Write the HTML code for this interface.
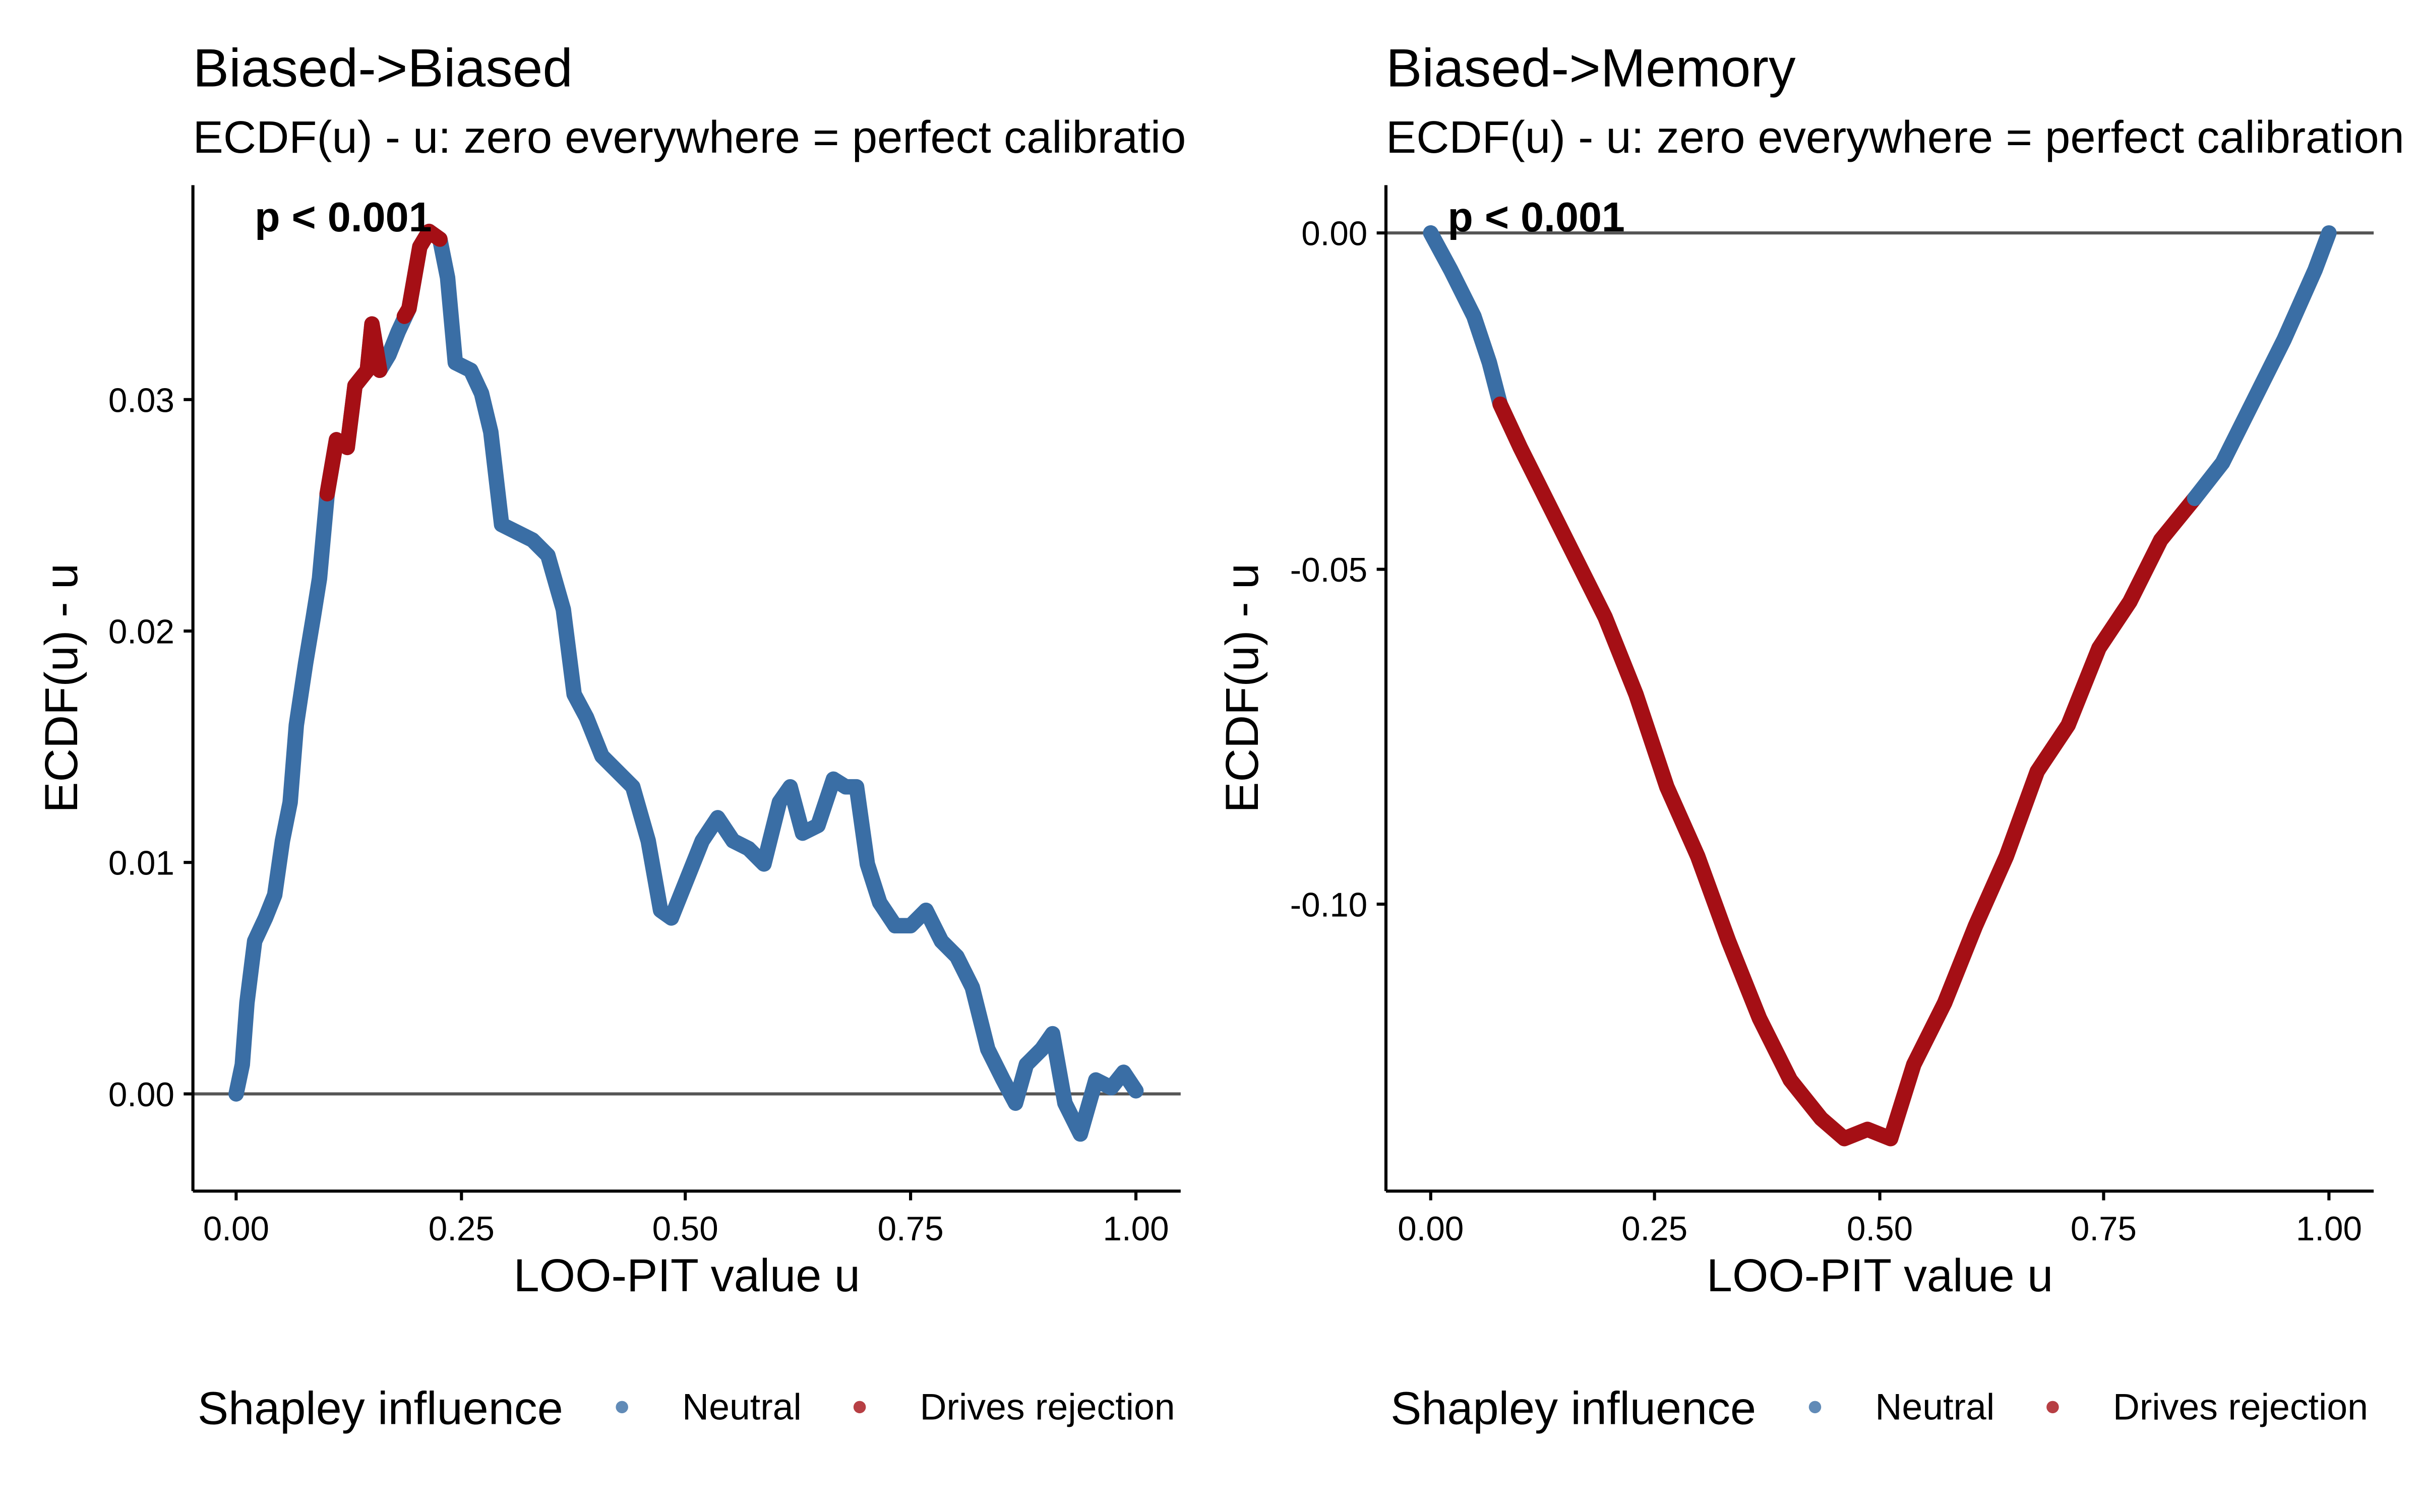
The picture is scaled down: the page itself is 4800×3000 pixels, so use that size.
<!DOCTYPE html>
<html><head><meta charset="utf-8"><style>
html,body{margin:0;padding:0;background:#fff;}
svg{display:block;}
text{font-family:"Liberation Sans",Arial,sans-serif;}
</style></head><body>
<svg width="4800" height="3000" viewBox="0 0 1568 980" xmlns="http://www.w3.org/2000/svg">
<rect width="1568" height="980" fill="#fff"/>
<!-- LEFT PANEL -->
<text x="125" y="56" font-size="35">Biased-&gt;Biased</text>
<text x="125" y="99" font-size="29.5">ECDF(u) - u: zero everywhere = perfect calibratio</text>
<line x1="125" y1="709" x2="765" y2="709" stroke="#555" stroke-width="2"/>
<g stroke-linejoin="round" stroke-linecap="round" fill="none" stroke-width="10">
<polyline stroke="#3a6ea5" points="153,709 157,690 160,650 165,610 172,595 178,580 183,545 188,520 192,470 198,430 203,400 207,375 212,320 218,285 225,290 230,250 238,240 241,210 246,240 252,230 258,215 265,200 272,160 278,150 285,155 290,180 295,235 305,240 312,255 318,280 325,340 335,345 345,350 355,360 365,395 372,450 380,465 390,490 400,500 410,510 420,545 428,590 435,595 445,570 455,545 465,530 475,545 485,550 495,560 505,520 512,510 520,540 530,535 540,505 548,510 555,510 562,560 570,585 580,600 590,600 600,590 610,610 620,620 630,640 640,680 650,700 658,715 665,690 675,680 682,670 690,715 700,735 710,700 720,705 728,695 736,707"/>
<polyline stroke="#a50f15" points="212,320 218,285 225,290 230,250 238,240 241,210 246,240"/>
<polyline stroke="#a50f15" points="262,205 265,200 272,160 278,150 285,155"/>
</g>
<line x1="125" y1="120" x2="125" y2="772" stroke="#000" stroke-width="2"/>
<line x1="125" y1="772" x2="765" y2="772" stroke="#000" stroke-width="2"/>
<g font-size="22" text-anchor="end">
<text x="113" y="717">0.00</text><text x="113" y="567">0.01</text><text x="113" y="417">0.02</text><text x="113" y="267">0.03</text>
</g>
<g stroke="#000" stroke-width="2"><line x1="119" y1="709" x2="125" y2="709"/><line x1="119" y1="559" x2="125" y2="559"/><line x1="119" y1="409" x2="125" y2="409"/><line x1="119" y1="259" x2="125" y2="259"/>
<line x1="153" y1="772" x2="153" y2="778"/><line x1="299" y1="772" x2="299" y2="778"/><line x1="444" y1="772" x2="444" y2="778"/><line x1="590" y1="772" x2="590" y2="778"/><line x1="736" y1="772" x2="736" y2="778"/></g>
<g font-size="22" text-anchor="middle">
<text x="153" y="804">0.00</text><text x="299" y="804">0.25</text><text x="444" y="804">0.50</text><text x="590" y="804">0.75</text><text x="736" y="804">1.00</text>
</g>
<text x="445" y="837" font-size="30" text-anchor="middle">LOO-PIT value u</text>
<text transform="translate(50,446) rotate(-90)" font-size="30" text-anchor="middle">ECDF(u) - u</text>
<text x="165" y="150" font-size="27" font-weight="bold">p &lt; 0.001</text>
<text x="128" y="923" font-size="30">Shapley influence</text>
<circle cx="403" cy="912" r="4" fill="#3a6ea5" opacity="0.8"/><text x="442" y="920" font-size="24">Neutral</text>
<circle cx="557" cy="912" r="4" fill="#a50f15" opacity="0.8"/><text x="596" y="920" font-size="24">Drives rejection</text>

<!-- RIGHT PANEL -->
<text x="898" y="56" font-size="35">Biased-&gt;Memory</text>
<text x="898" y="99" font-size="29.5">ECDF(u) - u: zero everywhere = perfect calibration</text>
<line x1="898" y1="151" x2="1538" y2="151" stroke="#555" stroke-width="2"/>
<g stroke-linejoin="round" stroke-linecap="round" fill="none" stroke-width="10">
<polyline stroke="#3a6ea5" points="927,151 940,175 955,205 965,235 972,262"/>
<polyline stroke="#a50f15" points="972,262 985,290 1000,320 1020,360 1040,400 1060,450 1080,510 1100,555 1120,610 1140,660 1160,700 1180,725 1195,738 1210,732 1225,738 1240,690 1260,650 1280,600 1300,555 1320,500 1340,470 1360,420 1380,390 1400,350 1422,323"/>
<polyline stroke="#3a6ea5" points="1422,323 1440,300 1460,260 1480,220 1500,175 1509,151"/>
</g>
<line x1="898" y1="120" x2="898" y2="772" stroke="#000" stroke-width="2"/>
<line x1="898" y1="772" x2="1538" y2="772" stroke="#000" stroke-width="2"/>
<g font-size="22" text-anchor="end">
<text x="886" y="159">0.00</text><text x="886" y="377">-0.05</text><text x="886" y="594">-0.10</text>
</g>
<g stroke="#000" stroke-width="2"><line x1="892" y1="151" x2="898" y2="151"/><line x1="892" y1="369" x2="898" y2="369"/><line x1="892" y1="586" x2="898" y2="586"/>
<line x1="927" y1="772" x2="927" y2="778"/><line x1="1072" y1="772" x2="1072" y2="778"/><line x1="1218" y1="772" x2="1218" y2="778"/><line x1="1363" y1="772" x2="1363" y2="778"/><line x1="1509" y1="772" x2="1509" y2="778"/></g>
<g font-size="22" text-anchor="middle">
<text x="927" y="804">0.00</text><text x="1072" y="804">0.25</text><text x="1218" y="804">0.50</text><text x="1363" y="804">0.75</text><text x="1509" y="804">1.00</text>
</g>
<text x="1218" y="837" font-size="30" text-anchor="middle">LOO-PIT value u</text>
<text transform="translate(815,446) rotate(-90)" font-size="30" text-anchor="middle">ECDF(u) - u</text>
<text x="938" y="150" font-size="27" font-weight="bold">p &lt; 0.001</text>
<text x="901" y="923" font-size="30">Shapley influence</text>
<circle cx="1176" cy="912" r="4" fill="#3a6ea5" opacity="0.8"/><text x="1215" y="920" font-size="24">Neutral</text>
<circle cx="1330" cy="912" r="4" fill="#a50f15" opacity="0.8"/><text x="1369" y="920" font-size="24">Drives rejection</text>
</svg>
</body></html>
